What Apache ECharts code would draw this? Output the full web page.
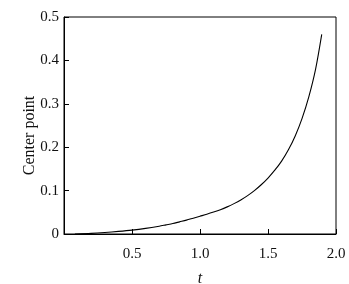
<!DOCTYPE html>
<html>
<head>
<meta charset="utf-8">
<script src="https://cdn.jsdelivr.net/npm/echarts@6/dist/echarts.min.js"></script>
<style>html,body{margin:0;padding:0;background:#fff}#c{width:349px;height:284px}</style>
</head>
<body>
<div id="c"></div>
<script>
var tValues = [0.08, 0.2, 0.3, 0.4, 0.5, 0.6, 0.7, 0.75, 0.8, 0.85, 0.9, 0.95, 1.0, 1.05, 1.1, 1.15, 1.2, 1.25, 1.3, 1.35, 1.4, 1.45, 1.5, 1.55, 1.6, 1.65, 1.7, 1.75, 1.8, 1.85, 1.895];
var centerValues = [0.0, 0.0015, 0.0035, 0.006, 0.009, 0.013, 0.018, 0.021, 0.024, 0.028, 0.032, 0.0365, 0.041, 0.0455, 0.0505, 0.056, 0.0625, 0.070, 0.0785, 0.0885, 0.100, 0.1135, 0.129, 0.147, 0.168, 0.194, 0.226, 0.266, 0.316, 0.380, 0.460];
var xTicks = [0, 0.5, 1.0, 1.5, 2.0];
var yTicks = [0, 0.1, 0.2, 0.3, 0.4, 0.5];

var pts = tValues.map(function (t, i) { return [t, centerValues[i]]; });
var font = 'Liberation Serif';
var chart = echarts.init(document.getElementById('c'));
chart.setOption({
  animation: false,
  grid: { left: 64, right: 13, top: 17, bottom: 50, show: true, borderColor: '#000', borderWidth: 1,
    backgroundColor: 'transparent', containLabel: false, outerBoundsMode: 'none' },
  xAxis: {
    type: 'value', min: xTicks[0], max: xTicks[xTicks.length - 1], interval: 0.5,
    name: 't', nameLocation: 'middle', nameGap: 37, nameMoveOverlap: false,
    nameTextStyle: { fontFamily: font, fontStyle: 'italic', fontSize: 16, color: '#111' },
    axisLine: { show: true, lineStyle: { color: '#000', width: 1 } },
    axisTick: { show: true, inside: true, length: 5, lineStyle: { color: '#000' } },
    axisLabel: { fontFamily: font, fontSize: 15, color: '#111', margin: 13,
      formatter: function (v) { return v === 0 ? '' : v.toFixed(1); } },
    splitLine: { show: false }
  },
  yAxis: {
    type: 'value', min: yTicks[0], max: yTicks[yTicks.length - 1], interval: 0.1,
    name: 'Center point', nameLocation: 'middle', nameGap: 26, nameRotate: 90, nameMoveOverlap: false,
    nameTextStyle: { fontFamily: font, fontSize: 16, color: '#111', padding: [0, 20, 0, 0] },
    axisLine: { show: true, lineStyle: { color: '#000', width: 1 } },
    axisTick: { show: true, inside: true, length: 5, lineStyle: { color: '#000' } },
    axisLabel: { fontFamily: font, fontSize: 15, color: '#111', margin: 5,
      formatter: function (v) { return v === 0 ? '0' : v.toFixed(1); } },
    splitLine: { show: false }
  },
  series: [{
    type: 'line', data: pts, smooth: 0.3, showSymbol: false,
    lineStyle: { color: '#000', width: 1.1 }
  }]
});
</script>
</body>
</html>
